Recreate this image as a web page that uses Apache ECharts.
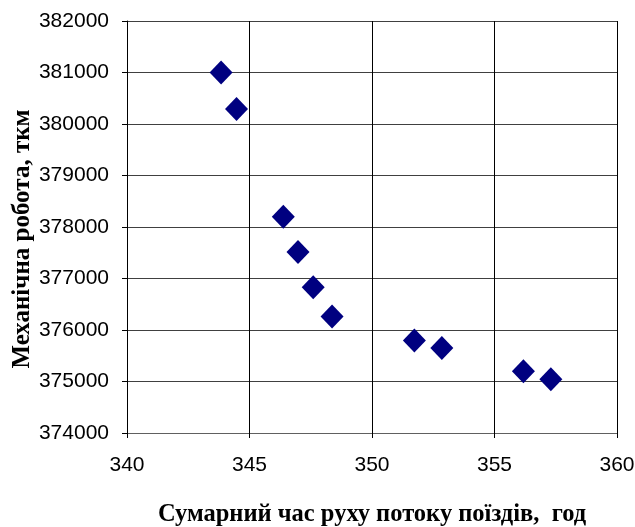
<!DOCTYPE html>
<html>
<head>
<meta charset="utf-8">
<script src="https://cdn.jsdelivr.net/npm/echarts@6/dist/echarts.min.js"></script>
<style>
  html, body { margin: 0; padding: 0; background: #fff; }
  #chart { width: 635px; height: 527px; }
</style>
</head>
<body>
<div id="chart"></div>
<script>
// Total train-flow running time (hours) vs mechanical work (t·km)
const runTimeHours = [343.84, 344.47, 346.38, 346.98, 347.6, 348.37, 351.73, 352.85, 356.18, 357.3];
const mechanicalWork = [381000, 380290, 378200, 377515, 376830, 376260, 375795, 375650, 375200, 375045];

const xTitle = 'Сумарний час руху потоку поїздів,  год';
const yTitle = 'Механічна робота, ткм';

const points = runTimeHours.map((x, i) => [x, mechanicalWork[i]]);

const chart = echarts.init(document.getElementById('chart'), null, { renderer: 'canvas' });
chart.setOption({
  animation: false,
  backgroundColor: '#ffffff',
  grid: { left: 127, right: 18, top: 21, bottom: 94, containLabel: false, outerBoundsMode: 'none' },
  xAxis: {
    type: 'value',
    min: 340, max: 360, interval: 5,
    name: xTitle,
    nameLocation: 'middle',
    nameGap: 69,
    nameMoveOverlap: false,
    nameTextStyle: { fontFamily: 'Liberation Serif', fontWeight: 'bold', fontSize: 24.5, color: '#000' },
    axisLine: { show: true, lineStyle: { color: '#606060', width: 1 } },
    axisTick: { show: true, length: 5, lineStyle: { color: '#000' } },
    axisLabel: { fontFamily: 'Liberation Sans', fontSize: 21, color: '#000', margin: 22 },
    splitLine: { show: true, lineStyle: { color: '#000', width: 1 } }
  },
  yAxis: {
    type: 'value',
    min: 374000, max: 382000, interval: 1000,
    name: yTitle,
    nameLocation: 'middle',
    nameGap: 92,
    nameRotate: 90,
    nameMoveOverlap: false,
    nameTextStyle: { fontFamily: 'Liberation Serif', fontWeight: 'bold', fontSize: 25, color: '#000', padding: [0, 24, 0, 0] },
    axisLine: { show: true, lineStyle: { color: '#000', width: 1 } },
    axisTick: { show: true, length: 5, lineStyle: { color: '#000' } },
    axisLabel: { fontFamily: 'Liberation Sans', fontSize: 21, color: '#000', margin: 18, formatter: v => String(v) },
    splitLine: { show: true, lineStyle: { color: '#404040', width: 1 } }
  },
  series: [{
    type: 'scatter',
    data: points,
    symbol: 'diamond',
    symbolSize: [23, 24],
    itemStyle: { color: '#000080', opacity: 1 }
  }]
});
</script>
</body>
</html>
